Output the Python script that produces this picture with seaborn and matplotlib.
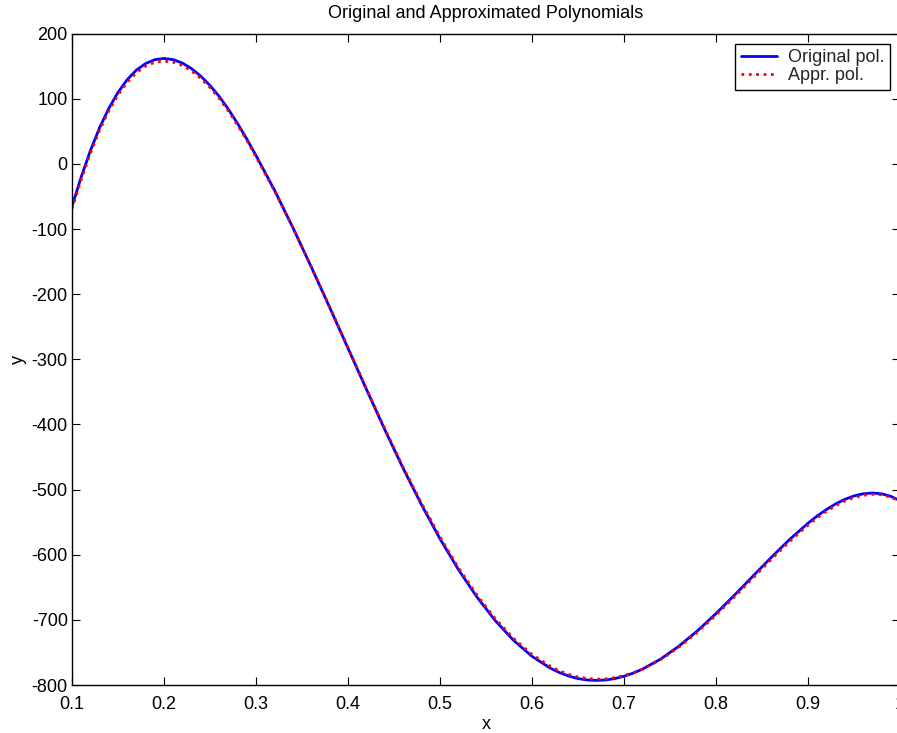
import matplotlib
matplotlib.use("Agg")
import matplotlib.pyplot as plt
import seaborn as sns
import pandas as pd

# ---- data ----
x_vals = [0.10, 0.11, 0.12, 0.13, 0.14, 0.15, 0.16, 0.17, 0.18, 0.19,
          0.20, 0.21, 0.22, 0.23, 0.24, 0.25, 0.26, 0.27, 0.28, 0.29,
          0.30, 0.32, 0.34, 0.36, 0.38, 0.40, 0.42, 0.44, 0.46, 0.48,
          0.50, 0.52, 0.54, 0.56, 0.58, 0.60, 0.62, 0.63, 0.64, 0.65,
          0.66, 0.67, 0.68, 0.69, 0.70, 0.71, 0.72, 0.74, 0.76, 0.78,
          0.80, 0.82, 0.84, 0.86, 0.88, 0.90, 0.91, 0.92, 0.93, 0.94,
          0.95, 0.96, 0.97, 0.98, 0.99, 1.00]

original_pol = [-65.0, -20.0, 20.5, 55.7, 85.3, 109.9, 129.4, 144.1, 154.2, 160.1,
                162.0, 160.2, 154.9, 146.3, 134.8, 120.5, 103.7, 83.9, 62.0, 38.3,
                13.0, -40.0, -97.5, -158.0, -220.0, -283.0, -346.0, -408.0, -467.5, -523.5,
                -575.6, -622.7, -664.6, -701.0, -731.5, -756.0, -774.2, -781.0, -786.3, -790.1,
                -792.3, -793.0, -792.3, -790.1, -786.6, -781.8, -775.7, -760.0, -740.0, -716.6,
                -690.3, -662.2, -633.1, -604.2, -576.6, -551.6, -540.5, -530.6, -522.0, -515.0,
                -509.7, -506.4, -505.2, -506.4, -510.3, -517.0]

approx_pol = [-69.0, -24.0, 16.5, 51.7, 81.3, 105.9, 125.4, 140.1, 150.2, 156.1,
              158.0, 156.3, 151.2, 142.7, 131.4, 117.3, 100.8, 81.2, 59.6, 36.1,
              11.0, -41.0, -97.5, -157.6, -219.2, -282.0, -344.8, -406.4, -465.7, -521.0,
              -572.6, -619.7, -661.6, -698.0, -728.5, -753.0, -771.4, -778.4, -783.8, -787.7,
              -790.0, -791.0, -790.6, -788.7, -785.6, -781.3, -775.7, -761.0, -741.5, -718.6,
              -692.6, -664.8, -636.0, -607.2, -579.6, -554.6, -543.4, -533.4, -524.7, -517.6,
              -512.2, -508.8, -507.2, -508.0, -511.6, -518.0]

x_ticks = [0.1, 0.2, 0.3, 0.4, 0.5, 0.6, 0.7, 0.8, 0.9, 1.0]
x_tick_labels = ["0.1", "0.2", "0.3", "0.4", "0.5", "0.6", "0.7", "0.8", "0.9", "1"]
y_ticks = [-800, -700, -600, -500, -400, -300, -200, -100, 0, 100, 200]
y_tick_labels = ["-800", "-700", "-600", "-500", "-400", "-300", "-200", "-100", "0", "100", "200"]

title_text = "Original and Approximated Polynomials"
label_orig = "Original pol."
label_appr = "Appr. pol."

df_orig = pd.DataFrame({"x": x_vals, "y": original_pol})
df_appr = pd.DataFrame({"x": x_vals, "y": approx_pol})

# ---- style ----
sns.set_theme(style="white")
plt.rcParams["font.family"] = ["Liberation Sans", "DejaVu Sans"]
FS = 13
plt.rcParams["font.size"] = FS

fig = plt.figure(figsize=(8.97, 7.33), dpi=100)
ax = fig.add_axes([72 / 897, 48 / 733, 828 / 897, 651.3 / 733])

sns.lineplot(data=df_orig, x="x", y="y", ax=ax, color="#0000ff", linewidth=2.0,
             linestyle="-", label=label_orig, sort=False, estimator=None)
sns.lineplot(data=df_appr, x="x", y="y", ax=ax, color="#ff0000", linewidth=2.0,
             linestyle=":", label=label_appr, sort=False, estimator=None)

ax.set_xlim(0.1, 1.0)
ax.set_ylim(-800, 200)
ax.set_xticks(x_ticks)
ax.set_xticklabels(x_tick_labels)
ax.set_yticks(y_ticks)
ax.set_yticklabels(y_tick_labels)

ax.tick_params(axis="both", which="both", direction="in", length=6, width=0.8,
               colors="black", labelsize=FS, top=True, right=True,
               bottom=True, left=True)
ax.tick_params(axis="x", pad=8)
ax.tick_params(axis="y", pad=3)
for sp in ax.spines.values():
    sp.set_visible(True)
    sp.set_color("black")
    sp.set_linewidth(1.0)

ax.set_xlabel("x", fontsize=FS, color="black", labelpad=2)
ax.set_ylabel("y", fontsize=FS, color="black", labelpad=3)
ax.set_title(title_text, fontsize=FS, color="black", pad=11)

leg = ax.legend(loc="upper right", fontsize=FS, frameon=True, fancybox=False,
                edgecolor="black", framealpha=1.0, borderaxespad=0.55,
                handlelength=2.0, borderpad=0.32, labelspacing=0.05,
                handletextpad=0.6)
leg.get_frame().set_linewidth(1.0)

fig.savefig("out.png", dpi=100)
